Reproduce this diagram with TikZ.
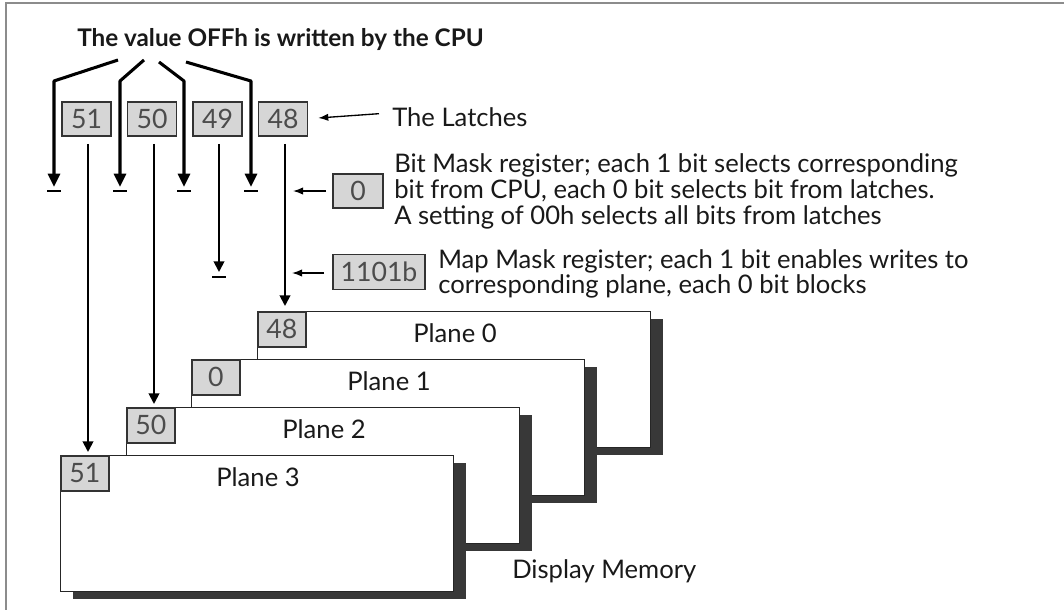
\documentclass[tikz,border=0pt]{standalone}
\usepackage{fontspec}
\setmainfont{Lato}
\usetikzlibrary{arrows.meta,calc,shadows}
\definecolor{boxgray}{gray}{0.84}
\definecolor{shade}{gray}{0.22}
\tikzset{
  txt/.style={inner sep=0pt, font=\fontsize{19.2}{22}\selectfont, text=black!90},
  ttl/.style={inner sep=0pt, font=\fontsize{18.2}{22}\selectfont\bfseries, text=black!90},
  regbox/.style={draw=black!80, fill=boxgray, line width=1.2pt, inner sep=0pt,
     minimum width=36.75pt, minimum height=25.5pt, font=\fontsize{20}{20}\selectfont, text=black!70},
  plane/.style={draw=black!85, fill=white, line width=1.1pt, inner sep=0pt, anchor=north west,
     minimum width=294.75pt, minimum height=102pt,
     drop shadow={shadow xshift=9pt, shadow yshift=-5.25pt, fill=shade, opacity=1}},
  heavy/.style={line width=2.3pt, line join=round, -{Triangle[length=10pt,width=9pt]}},
  latchline/.style={line width=1.4pt, -{Triangle[length=8pt,width=8pt]}},
  thin/.style={line width=1pt, -{Latex[length=7.5pt,width=5.5pt]}},
  barline/.style={line width=1.8pt},
  framel/.style={draw=black!45, line width=1.5pt}
}
\begin{document}
\begin{tikzpicture}[x=0.75pt,y=-0.75pt]
\useasboundingbox (0,0) rectangle (1064,610);
% frame
\draw[framel] (6,610) -- (6,3) -- (1064,3);

% title
\node[ttl, anchor=base west] (title) at (77,47) {The value OFFh is written by the CPU};

% latches
\node[regbox] (l51) at (86.5,119) {51};
\node[regbox] (l50) at (152,119) {50};
\node[regbox] (l49) at (217.5,119) {49};
\node[regbox] (l48) at (283,119) {48};
\node[txt, anchor=base west] (latchtxt) at (392,127) {The Latches};
\draw[thin] ($(latchtxt.west)+(-13,-4)$) -- ($(l48.east)+(10,-1)$);

% title arrows
\coordinate (c1) at (118,60);
\coordinate (c2) at (144,60);
\coordinate (c3) at (159,62);
\coordinate (c4) at (186,62);
\coordinate (knee) at (0,81);
\coordinate (bar1) at (54,191);
\coordinate (bar2) at (120,191);
\coordinate (bar3) at (184,191);
\coordinate (bar4) at (251,191);
\foreach \i in {1,2,3,4}{
  \draw[heavy] (c\i) -- (bar\i |- knee) -- ($(bar\i)+(0,-4)$);
  \draw[barline] ($(bar\i)+(-7,0)$) -- ($(bar\i)+(7,0)$);
}

% bit mask register
\node[regbox, minimum width=37.5pt] (bm) at (358,191) {0};
\node[txt, anchor=base west] (bm1) at (394,172) {Bit Mask register; each 1 bit selects corresponding};
\node[txt, anchor=base west] (bm2) at (394,198) {bit from CPU, each 0 bit selects bit from latches.};
\node[txt, anchor=base west] (bm3) at (394,224) {A setting of 00h selects all bits from latches};
\coordinate (bmtip) at (293,191);
\draw[thin] ($(bm.west)+(-6,0)$) -- (bmtip);

% map mask register
\node[regbox, minimum width=69pt, minimum height=26.25pt] (mm) at (379,272) {1101b};
\node[txt, anchor=base west] (mm1) at (438,268) {Map Mask register; each 1 bit enables writes to};
\node[txt, anchor=base west] (mm2) at (438,293) {corresponding plane, each 0 bit blocks};
\coordinate (mmtip) at (292,273);
\draw[thin] ($(mm.west)+(-8,1)$) -- (mmtip);

% planes
\node[plane] (p0) at (257,311) {};
\node[regbox, minimum width=36pt, minimum height=26.25pt, anchor=north west] (q0) at (p0.north west) {48};
\node[txt, anchor=base] (t0) at ($(p0.north west)+(198,31)$) {Plane 0};

\node[plane] (p1) at (191,359) {};
\node[regbox, minimum width=36pt, minimum height=26.25pt, anchor=north west] (q1) at (p1.north west) {0};
\node[txt, anchor=base] (t1) at ($(p1.north west)+(198,31)$) {Plane 1};

\node[plane] (p2) at (126,407) {};
\node[regbox, minimum width=36pt, minimum height=26.25pt, anchor=north west] (q2) at (p2.north west) {50};
\node[txt, anchor=base] (t2) at ($(p2.north west)+(198,31)$) {Plane 2};

\node[plane] (p3) at (60,455) {};
\node[regbox, minimum width=36pt, minimum height=26.25pt, anchor=north west] (q3) at (p3.north west) {51};
\node[txt, anchor=base] (t3) at ($(p3.north west)+(198,31)$) {Plane 3};

\node[txt, anchor=base west] (dm) at (512,578) {Display Memory};

% latch outputs
\coordinate (s51) at ($(l51.south)+(1.5,7)$);
\coordinate (s50) at ($(l50.south)+(2,7)$);
\coordinate (s49) at ($(l49.south)+(1.5,7)$);
\coordinate (s48) at ($(l48.south)+(2,7)$);
\coordinate (bar5) at (219,277);
\draw[latchline] (s51) -- ($(s51 |- q3.north)+(0,-3)$);
\draw[latchline] (s50) -- ($(s50 |- q2.north)+(0,-3)$);
\draw[latchline] (s49) -- ($(bar5)+(0,-5)$);
\draw[barline] ($(bar5)+(-7,0)$) -- ($(bar5)+(7,0)$);
\draw[latchline] (s48) -- ($(s48 |- q0.north)+(0,-5)$);
\end{tikzpicture}
\end{document}
